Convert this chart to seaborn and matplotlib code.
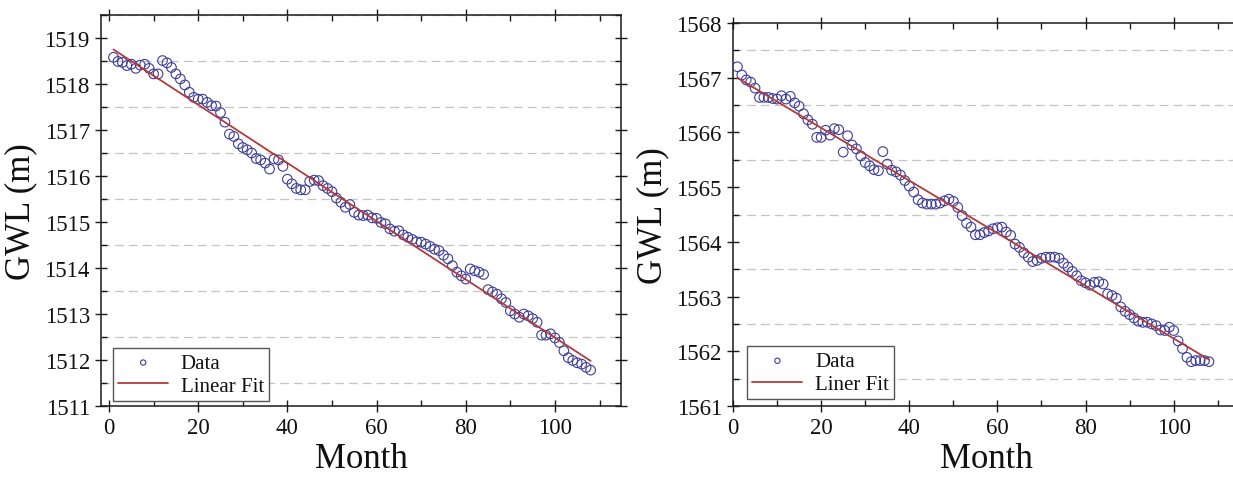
import numpy as np
import pandas as pd
import matplotlib
matplotlib.use("Agg")
import matplotlib.pyplot as plt
from matplotlib.ticker import MultipleLocator
import seaborn as sns

# months 1..108 for both wells
months = list(range(1, 109))

# well 1 groundwater level (m)
gwl_well1 = [
    1518.58, 1518.49, 1518.47, 1518.40, 1518.43, 1518.34, 1518.41, 1518.43, 1518.34, 1518.22,
    1518.22, 1518.51, 1518.46, 1518.36, 1518.22, 1518.11, 1517.98, 1517.82, 1517.71, 1517.67,
    1517.67, 1517.60, 1517.53, 1517.52, 1517.38, 1517.17, 1516.91, 1516.86, 1516.70, 1516.62,
    1516.57, 1516.50, 1516.38, 1516.35, 1516.28, 1516.15, 1516.37, 1516.35, 1516.21, 1515.93,
    1515.83, 1515.73, 1515.70, 1515.70, 1515.88, 1515.91, 1515.90, 1515.79, 1515.73, 1515.66,
    1515.52, 1515.43, 1515.32, 1515.38, 1515.21, 1515.15, 1515.14, 1515.15, 1515.09, 1515.08,
    1514.99, 1514.96, 1514.85, 1514.80, 1514.81, 1514.72, 1514.67, 1514.62, 1514.57, 1514.56,
    1514.52, 1514.47, 1514.41, 1514.38, 1514.28, 1514.20, 1514.05, 1513.91, 1513.83, 1513.76,
    1513.98, 1513.94, 1513.91, 1513.86, 1513.53, 1513.48, 1513.43, 1513.33, 1513.25, 1513.07,
    1513.00, 1512.93, 1513.00, 1512.96, 1512.90, 1512.82, 1512.54, 1512.54, 1512.57, 1512.48,
    1512.38, 1512.20, 1512.05, 1511.99, 1511.94, 1511.91, 1511.84, 1511.78,
]

# well 2 groundwater level (m)
gwl_well2 = [
    1567.20, 1567.05, 1566.96, 1566.92, 1566.81, 1566.64, 1566.64, 1566.64, 1566.62, 1566.61,
    1566.67, 1566.61, 1566.66, 1566.54, 1566.48, 1566.34, 1566.23, 1566.15, 1565.91, 1565.91,
    1566.04, 1565.95, 1566.07, 1566.05, 1565.64, 1565.94, 1565.77, 1565.70, 1565.57, 1565.45,
    1565.39, 1565.32, 1565.30, 1565.65, 1565.42, 1565.31, 1565.28, 1565.22, 1565.12, 1565.02,
    1564.91, 1564.77, 1564.71, 1564.69, 1564.69, 1564.69, 1564.71, 1564.75, 1564.78, 1564.74,
    1564.63, 1564.48, 1564.34, 1564.27, 1564.13, 1564.13, 1564.17, 1564.20, 1564.24, 1564.26,
    1564.27, 1564.18, 1564.12, 1563.96, 1563.90, 1563.80, 1563.72, 1563.64, 1563.66, 1563.70,
    1563.72, 1563.72, 1563.72, 1563.70, 1563.61, 1563.54, 1563.46, 1563.38, 1563.29, 1563.25,
    1563.21, 1563.26, 1563.27, 1563.23, 1563.05, 1563.02, 1562.97, 1562.81, 1562.73, 1562.67,
    1562.61, 1562.55, 1562.53, 1562.53, 1562.50, 1562.47, 1562.39, 1562.38, 1562.44, 1562.38,
    1562.19, 1562.05, 1561.89, 1561.81, 1561.83, 1561.83, 1561.83, 1561.81,
]

fit_labels = ["Linear Fit", "Liner Fit"]

NAVY = "#3d3d99"
RED = "#b33a3a"
GRID = "#c4c4c4"

sns.set_theme(style="ticks")
plt.rcParams["font.family"] = ["Liberation Serif", "DejaVu Serif"]
plt.rcParams["axes.linewidth"] = 1.1
plt.rcParams["text.color"] = "#111111"
plt.rcParams["axes.labelcolor"] = "#111111"

fig = plt.figure(figsize=(12.33, 4.85), dpi=100)
ax1 = fig.add_axes([0.0819, 0.1608, 0.4217, 0.8062])
ax2 = fig.add_axes([0.5945, 0.1608, 0.4110, 0.7897])

panels = [
    (ax1, gwl_well1, fit_labels[0], (-1.8, 114.8), (1511, 1519.5), (0.023, 0.013)),
    (ax2, gwl_well2, fit_labels[1], (0, 115), (1561, 1568), (0.028, 0.018)),
]

for ax, vals, fit_lab, xlim, ylim, leg_pos in panels:
    df = pd.DataFrame({"Month": months, "GWL": vals})

    # horizontal dashed lines at the half-metre minor ticks
    ax.yaxis.set_minor_locator(MultipleLocator(0.5))
    ax.yaxis.grid(True, which="minor", color=GRID, linestyle=(0, (7, 4)), linewidth=0.9)
    ax.yaxis.grid(False, which="major")
    ax.set_axisbelow(True)

    sns.scatterplot(data=df, x="Month", y="GWL", ax=ax, marker="o", s=48,
                    facecolors="none", edgecolors=NAVY, linewidths=0.8,
                    label="Data", zorder=3)
    sns.regplot(data=df, x="Month", y="GWL", ax=ax, scatter=False, ci=None,
                color=RED, line_kws=dict(lw=1.3, zorder=4), label=fit_lab)

    ax.set_xlim(*xlim)
    ax.set_ylim(*ylim)
    ax.xaxis.set_major_locator(MultipleLocator(20))
    ax.xaxis.set_minor_locator(MultipleLocator(10))
    ax.yaxis.set_major_locator(MultipleLocator(1))
    ax.yaxis.set_major_formatter(matplotlib.ticker.FormatStrFormatter("%d"))

    for side in ["top", "right", "left", "bottom"]:
        ax.spines[side].set_visible(True)
        ax.spines[side].set_color("#1a1a1a")

    ax.tick_params(which="both", top=True, right=True, color="#1a1a1a",
                   labelcolor="#111111", labelsize=16.5, width=1.0)
    ax.tick_params(which="major", direction="inout", length=9)
    ax.tick_params(which="minor", direction="in", length=4)

    ax.set_xlabel("Month", fontsize=25, labelpad=3)
    ax.set_ylabel("GWL (m)", fontsize=25, labelpad=5)

    leg = ax.legend(loc="lower left", bbox_to_anchor=leg_pos, borderaxespad=0,
                    fontsize=15, frameon=True, fancybox=False, framealpha=1,
                    edgecolor="#555555", markerscale=0.55, handlelength=2.4,
                    labelspacing=0.15, borderpad=0.25, handletextpad=0.6)
    leg.get_frame().set_linewidth(1.0)

fig.savefig("out.png", dpi=100)
